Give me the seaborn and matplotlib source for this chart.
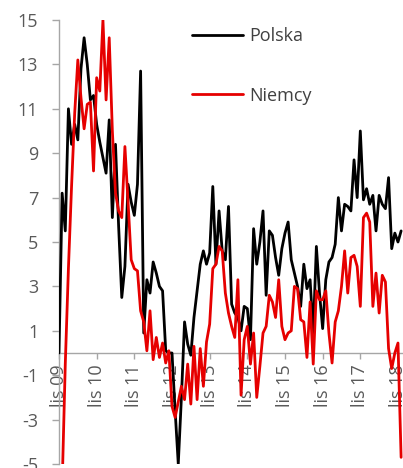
import matplotlib
matplotlib.use("Agg")
import matplotlib.pyplot as plt
import numpy as np
import pandas as pd
import seaborn as sns

# ---- data (monthly, Nov 2009 .. Dec 2018) ----
polska = [
    0.0, 7.2, 5.5, 11.0, 9.4, 10.3, 9.6, 12.8, 14.2, 13.0,
    11.4, 11.6, 10.3, 9.5, 8.8, 8.1, 10.5, 6.1, 9.4, 5.7,
    2.5, 3.9, 7.6, 6.8, 6.2, 7.6, 12.7, 0.9, 3.3, 2.7,
    4.1, 3.6, 3.0, 2.8, 0.1, 0.0, 0.0, -2.6, -5.0, -2.0,
    1.4, 0.4, -0.1, 1.6, 2.8, 4.0, 4.6, 4.0, 4.5, 7.5,
    4.0, 6.4, 4.6, 4.2, 6.6, 2.2, 1.8, 1.6, 1.0, 2.1,
    2.0, 0.6, 5.6, 4.0, 5.0, 6.4, 2.6, 5.5, 5.3, 4.3,
    3.5, 4.7, 5.4, 5.9, 4.2, 3.6, 3.0, 2.1, 4.0, 2.9,
    3.3, 0.9, 4.8, 2.7, 1.1, 3.3, 4.1, 4.3, 4.9, 7.0,
    5.5, 6.7, 6.6, 6.4, 8.7, 7.0, 10.0, 6.9, 7.4, 6.7,
    7.1, 5.5, 7.1, 6.7, 6.5, 7.9, 4.7, 5.4, 5.0, 5.5,
]
niemcy = [
    -10.0, -6.0, -0.5, 3.8, 7.5, 10.8, 13.2, 11.5, 10.1, 11.2,
    11.3, 8.2, 12.4, 11.8, 15.0, 11.4, 14.2, 10.0, 7.2, 6.4,
    6.1, 9.3, 6.8, 4.2, 3.8, 3.7, 1.9, 1.4, 0.1, 1.9,
    -0.3, 0.7, -0.2, 0.45, -0.45, 0.1, -2.4, -2.9, -2.2, -1.5,
    -2.1, -0.5, -2.3, 0.3, -2.1, 0.2, -1.5, 0.5, 1.3, 3.8,
    4.0, 4.8, 4.6, 2.7, 1.8, 1.2, 0.7, 3.3, -1.9, 0.6,
    1.2, -0.5, 0.9, -2.0, -0.6, 0.9, 1.2, 2.6, 2.3, 1.6,
    3.3, 1.2, 0.6, 0.9, 1.0, 3.0, 2.9, 1.5, 1.4, -0.2,
    2.3, -0.5, 2.8, 2.4, 2.4, 2.8, 0.9, -0.45, 1.4, 1.9,
    3.0, 4.6, 2.7, 4.3, 4.4, 3.9, 2.1, 6.1, 6.3, 5.9,
    2.1, 3.6, 1.8, 3.5, 3.2, 0.2, -0.7, 0.0, 0.45, -4.7,
]
series_names = ["Polska", "Niemcy"]
x_tick_labels = ["lis 09", "lis 10", "lis 11", "lis 12", "lis 13",
                 "lis 14", "lis 15", "lis 16", "lis 17", "lis 18"]
y_ticks = [-5, -3, -1, 1, 3, 5, 7, 9, 11, 13, 15]

months = np.arange(len(polska))
df = pd.concat([
    pd.DataFrame({"miesiac": months, "wartosc": polska, "kraj": "Polska"}),
    pd.DataFrame({"miesiac": months, "wartosc": niemcy, "kraj": "Niemcy"}),
], ignore_index=True)

sns.set_style("white")
plt.rcParams["font.family"] = ["Open Sans", "DejaVu Sans"]

TEXT = "#595959"
AXC = "#a6a6a6"

fig = plt.figure(figsize=(4.03, 4.68), dpi=100)
ax = fig.add_axes([59 / 403, 4 / 468, 344 / 403, 444 / 468])

sns.lineplot(data=df, x="miesiac", y="wartosc", hue="kraj",
             hue_order=series_names,
             palette={"Polska": "#000000", "Niemcy": "#e60000"},
             linewidth=2.0, ax=ax, zorder=3)

for s in ["top", "right"]:
    ax.spines[s].set_visible(False)
ax.spines["bottom"].set_position(("data", 0))
for s in ["left", "bottom"]:
    ax.spines[s].set_color(AXC)
    ax.spines[s].set_linewidth(1.0)

ax.set_xlim(0, 109.6)
ax.set_ylim(-5, 15)
ax.set_yticks(y_ticks)
ax.set_yticklabels([str(v) for v in y_ticks])
ax.set_xticks(np.arange(len(x_tick_labels)) * 12)
ax.set_xticklabels(x_tick_labels)
ax.set_xlabel("")
ax.set_ylabel("")

ax.tick_params(axis="y", left=True, length=5, width=1, color=AXC,
               labelcolor=TEXT, labelsize=13, pad=10)
ax.tick_params(axis="x", bottom=True, length=4, width=1, color=AXC,
               labelcolor=TEXT, labelsize=13, pad=4, labelrotation=90)

handles, labels = ax.get_legend_handles_labels()
leg = ax.legend(handles, labels, loc="upper left",
                bbox_to_anchor=(192 / 403, 1 - 27 / 468),
                bbox_transform=fig.transFigure, frameon=False,
                fontsize=13, handlelength=2.8, handletextpad=0.35,
                labelspacing=2.3, borderpad=0, borderaxespad=0,
                labelcolor="#404040")
for h in leg.legend_handles:
    h.set_linewidth(2.0)

fig.savefig("out.png", dpi=100)
